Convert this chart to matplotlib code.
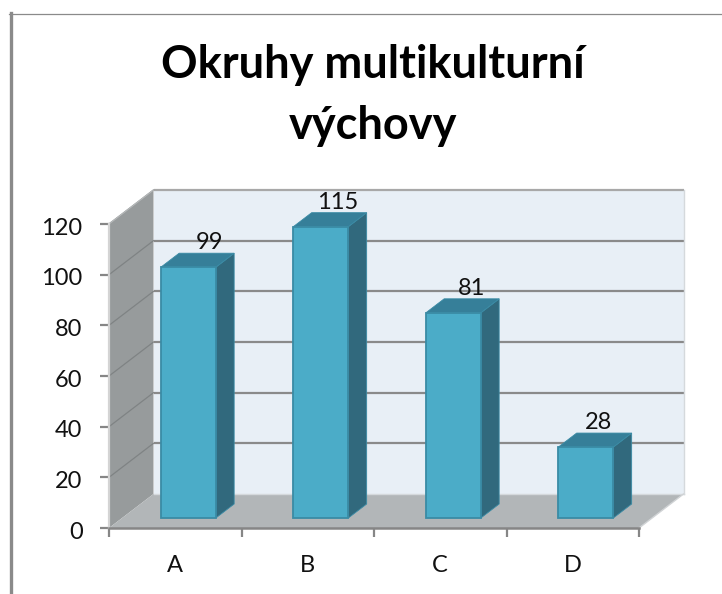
#!/usr/bin/env python3
import matplotlib
matplotlib.use("Agg")
import matplotlib.pyplot as plt
from matplotlib.patches import Polygon
from matplotlib.transforms import ScaledTranslation

categories = ["A", "B", "C", "D"]
values = [99, 115, 81, 28]
yticks = [0, 20, 40, 60, 80, 100, 120]
title = "Okruhy multikulturní\nvýchovy"

plt.rcParams['font.family'] = ['Lato', 'DejaVu Sans']

W, H = 722, 594
fig = plt.figure(figsize=(W / 100, H / 100), dpi=100)

# front plane 109..639 px, 0 at y=528, 120 at y=224; back plane is shifted by (44.5, -34) px
left, right, bottom, top = 109, 683.5, 528, 190
ax = fig.add_axes([left / W, 1 - bottom / H, (right - left) / W, (bottom - top) / H])
xunit = (639 - 109) / len(categories)
yunit = (528 - 224) / 120
dx = 44.5 / xunit
dy = 34 / yunit
xmax = len(categories)
ymax = yticks[-1]
ax.set_xlim(0, xmax + dx)
ax.set_ylim(0, ymax + dy)
ax.patch.set_visible(False)

wall = "#e8eff6"
side = "#979b9c"
floor = "#b2b6b8"
grid = "#8a8a8a"
front = "#4bacc8"
bar_side = "#31697d"
bar_top = "#367f99"
bar_edge = "#3a8ba5"


def poly(pts, fc, ec="none", lw=0, z=1):
    ax.add_patch(Polygon(pts, closed=True, fc=fc, ec=ec, lw=lw, zorder=z, clip_on=False))


# walls and floor
poly([(dx, dy), (xmax + dx, dy), (xmax + dx, ymax + dy), (dx, ymax + dy)], wall)
poly([(0, 0), (dx, dy), (dx, ymax + dy), (0, ymax)], side)
poly([(0, 0), (xmax, 0), (xmax + dx, dy), (dx, dy)], floor)

# gridlines, back wall and side wall
for t in yticks[1:]:
    c = "#a8a8a8" if t == ymax else grid
    ax.plot([dx, xmax + dx], [t + dy, t + dy], color=c, lw=1.6, zorder=2,
            solid_capstyle="butt", clip_on=False)
    ax.plot([0, dx], [t, t + dy], color="#7f8384", lw=0.9, zorder=2, clip_on=False)
ax.plot([dx, xmax + dx], [dy, dy], color="#d5d9dc", lw=1.0, zorder=2, clip_on=False)
ax.plot([0, dx], [ymax, ymax + dy], color="#b5b8b9", lw=1.0, zorder=2, clip_on=False)
ax.plot([xmax, xmax + dx], [0, dy], color="#d0d3d5", lw=1.0, zorder=2, clip_on=False)
ax.plot([xmax + dx, xmax + dx], [dy, ymax + dy], color="#d5d9dc", lw=1.0, zorder=2, clip_on=False)

# bars
bw = 55 / xunit
d0 = 10 / 34
d1 = d0 + 14 / 34
nudge = [2.0, -1.0, 0.2, -3.8]  # the value labels sit a little irregularly, in points
for i, (name, v) in enumerate(zip(categories, values)):
    x0 = i + 0.5 - bw / 2 + d0 * dx
    x1 = x0 + bw
    y0 = d0 * dy
    y1 = v + y0
    ox = (d1 - d0) * dx
    oy = (d1 - d0) * dy
    poly([(x1, y0), (x1 + ox, y0 + oy), (x1 + ox, y1 + oy), (x1, y1)], bar_side, bar_edge, 0.6, 3)
    poly([(x0, y1), (x1, y1), (x1 + ox, y1 + oy), (x0 + ox, y1 + oy)], bar_top, bar_edge, 0.6, 3)
    ax.bar(x0, v, width=bw, bottom=y0, align="edge", color=front, edgecolor=bar_edge,
           linewidth=1.3, zorder=4, clip_on=False)
    ax.annotate(str(v), (x0 + bw / 2 + ox, y1 + oy), xytext=(nudge[i], 7.5),
                textcoords="offset points", ha="center", va="center",
                fontsize=17, color="#111111", zorder=6, annotation_clip=False)

# axes: spines only run along the front plane
for s in ("top", "right"):
    ax.spines[s].set_visible(False)
ax.spines["left"].set_bounds(0, ymax)
ax.spines["bottom"].set_bounds(0, xmax)
ax.spines["left"].set_color("#d4d4d4")
ax.spines["left"].set_linewidth(1.6)
ax.spines["bottom"].set_color("#868686")
ax.spines["bottom"].set_linewidth(1.8)
ax.set_yticks(yticks)
ax.set_xticks(range(xmax + 1))
ax.set_xticklabels([""] * (xmax + 1))
ax.set_xticks([i + 0.5 for i in range(xmax)], minor=True)
ax.set_xticklabels(categories, minor=True, fontsize=17, color="#111111")
ax.tick_params(axis="y", direction="out", length=6.5, width=1.6, color="#868686",
               labelsize=17, labelcolor="#111111", pad=12.5)
ax.tick_params(axis="x", which="major", direction="out", length=6.5, width=1.6, color="#868686")
ax.tick_params(axis="x", which="minor", length=0, pad=19.5)

# y labels sit slightly below their ticks
shift = ScaledTranslation(0, -1.5 / 72, fig.dpi_scale_trans)
for lab in ax.get_yticklabels():
    lab.set_transform(lab.get_transform() + shift)

fig.text(373 / W, 1 - 95.5 / H, title, ha="center", va="center", fontsize=32.5, fontweight="bold",
         color="black", linespacing=1.53)

# outer frame of the chart area (left and top only)
fig.add_artist(plt.Line2D([10.5 / W, 10.5 / W], [0, 1 - 13 / H], color="#8a8a8a", lw=2.4))
fig.add_artist(plt.Line2D([9 / W, 1], [1 - 14 / H, 1 - 14 / H], color="#8a8a8a", lw=0.9))

fig.savefig("out.png", dpi=100)
